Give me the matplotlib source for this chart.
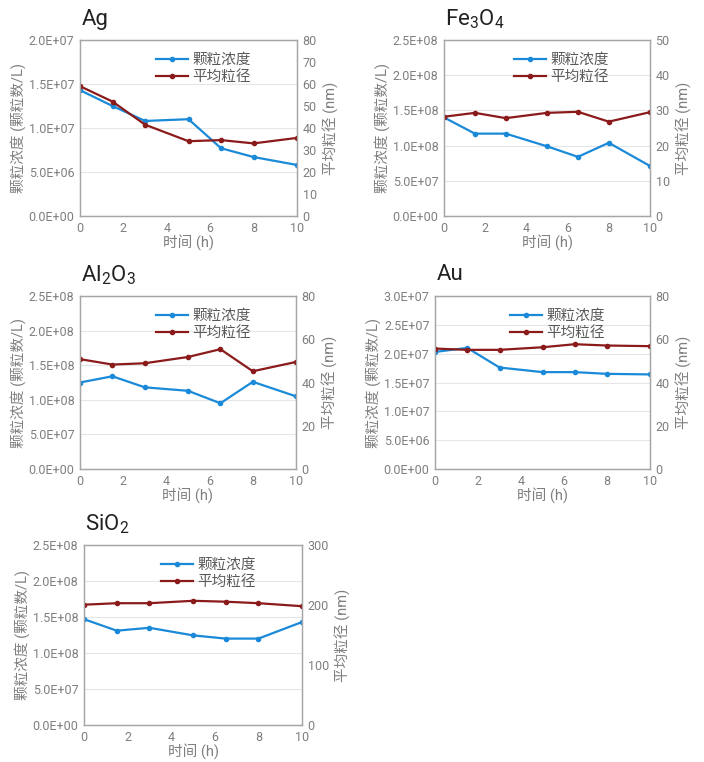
import matplotlib
matplotlib.use("Agg")
import matplotlib.pyplot as plt
from matplotlib.ticker import FuncFormatter

plt.rcParams['font.family'] = ['Roboto', 'Noto Sans CJK SC', 'DejaVu Sans']
plt.rcParams['mathtext.fontset'] = 'custom'
plt.rcParams['mathtext.rm'] = 'Roboto'
plt.rcParams['mathtext.it'] = 'Roboto'

hours = [0, 1.5, 3, 5, 6.5, 8, 10]

ag_conc = [1.43e7, 1.25e7, 1.08e7, 1.10e7, 0.77e7, 0.67e7, 0.58e7]
ag_size = [59, 52, 41.5, 34, 34.5, 33, 35.5]

fe_conc = [1.40e8, 1.17e8, 1.17e8, 0.99e8, 0.84e8, 1.04e8, 0.71e8]
fe_size = [28.2, 29.3, 27.8, 29.3, 29.6, 26.8, 29.5]

al_conc = [1.25e8, 1.34e8, 1.18e8, 1.13e8, 0.95e8, 1.26e8, 1.05e8]
al_size = [50.8, 48.3, 48.9, 51.8, 55.4, 45.2, 49.5]

au_conc = [2.03e7, 2.10e7, 1.76e7, 1.68e7, 1.68e7, 1.65e7, 1.64e7]
au_size = [55.7, 55.1, 55.1, 56.3, 57.7, 57.1, 56.8]

si_conc = [1.47e8, 1.31e8, 1.35e8, 1.245e8, 1.20e8, 1.20e8, 1.43e8]
si_size = [200.5, 203, 203, 207, 205.5, 203, 198]

BLUE = '#1a8ad8'
RED = '#8b1a1a'
GREY = '#7f7f7f'
W, H = 704, 762


def panel(fig, box, title, conc, size, cmax, cstep, smax, sstep):
    x0, y0, x1, y1 = box
    ax = fig.add_axes([x0 / W, 1 - y1 / H, (x1 - x0) / W, (y1 - y0) / H])
    ax2 = ax.twinx()
    l1, = ax.plot(hours, conc, color=BLUE, lw=1.6, marker='o', ms=3)
    l2, = ax2.plot(hours, size, color=RED, lw=1.6, marker='o', ms=3)
    ax.set_xlim(0, 10)
    ax.set_ylim(0, cmax)
    ax2.set_ylim(0, smax)
    ax.set_xticks(range(0, 11, 2))
    n = int(round(cmax / cstep))
    ax.set_yticks([i * cstep for i in range(n + 1)])
    m = int(round(smax / sstep))
    ax2.set_yticks([i * sstep for i in range(m + 1)])
    ax.yaxis.set_major_formatter(FuncFormatter(lambda v, p: f'{v:.1E}'))
    ax.grid(axis='y', color='#e6e6e6', lw=0.8)
    ax.set_axisbelow(True)
    for a in (ax, ax2):
        a.tick_params(length=0, labelsize=9, colors=GREY, pad=4)
        for s in a.spines.values():
            s.set_color('#a6a6a6')
            s.set_linewidth(0.9)
    ax.set_xlabel('时间 (h)', fontsize=10.5, color=GREY, labelpad=0)
    ax.set_ylabel('颗粒浓度 (颗粒数/L)', fontsize=10.5, color=GREY, labelpad=2)
    ax2.set_ylabel('平均粒径 (nm)', fontsize=10.5, color=GREY, labelpad=4)
    ax.legend([l1, l2], ['颗粒浓度', '平均粒径'], loc='upper center',
              bbox_to_anchor=(0.57, 1.0), frameon=False, fontsize=10.5,
              handlelength=2.2, handletextpad=0.3, labelspacing=0.2,
              labelcolor='#595959')
    fig.text(x0 / W + 0.002, 1 - (y0 - 21) / H, title, fontsize=16,
             color='#222222', va='center', ha='left')
    return ax


fig = plt.figure(figsize=(W / 100, H / 100), dpi=100)

panel(fig, (80, 40, 297, 216), 'Ag', ag_conc, ag_size, 2.0e7, 5e6, 80, 10)
panel(fig, (444, 40, 650, 216), 'Fe$_3$O$_4$', fe_conc, fe_size, 2.5e8, 5e7, 50, 10)
panel(fig, (80, 296, 296, 469), 'Al$_2$O$_3$', al_conc, al_size, 2.5e8, 5e7, 80, 20)
panel(fig, (435, 296, 650, 469), 'Au', au_conc, au_size, 3.0e7, 5e6, 80, 20)
panel(fig, (84, 545, 302, 725), 'SiO$_2$', si_conc, si_size, 2.5e8, 5e7, 300, 100)

fig.savefig('out.png', dpi=100)
